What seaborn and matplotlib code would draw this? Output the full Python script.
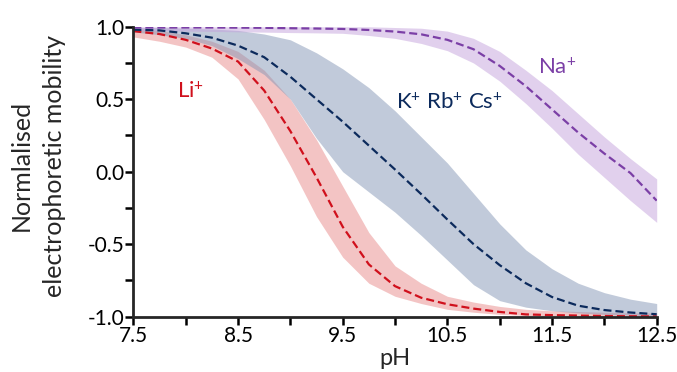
import matplotlib
matplotlib.use("Agg")
import matplotlib.pyplot as plt
import seaborn as sns
import pandas as pd
from matplotlib.ticker import MultipleLocator, FormatStrFormatter

# ---- data ----
ph = [7.5, 7.75, 8.0, 8.25, 8.5, 8.75, 9.0, 9.25, 9.5, 9.75, 10.0,
      10.25, 10.5, 10.75, 11.0, 11.25, 11.5, 11.75, 12.0, 12.25, 12.5]

li_mid = [0.97, 0.95, 0.91, 0.85, 0.76, 0.56, 0.28, -0.04, -0.38, -0.64, -0.79,
          -0.87, -0.915, -0.945, -0.968, -0.985, -0.99, -0.993, -0.996, -0.998, -0.999]
li_hi = [0.99, 0.975, 0.945, 0.90, 0.83, 0.70, 0.50, 0.22, -0.10, -0.42, -0.65,
         -0.77, -0.86, -0.90, -0.93, -0.95, -0.96, -0.965, -0.97, -0.975, -0.975]
li_lo = [0.93, 0.90, 0.86, 0.79, 0.64, 0.36, 0.04, -0.31, -0.59, -0.77, -0.86,
         -0.91, -0.95, -0.97, -0.985, -0.992, -0.996, -0.998, -1.0, -1.0, -1.0]

k_mid = [0.98, 0.975, 0.955, 0.925, 0.87, 0.79, 0.655, 0.50, 0.345, 0.18, 0.015,
         -0.155, -0.33, -0.50, -0.645, -0.77, -0.865, -0.925, -0.955, -0.972, -0.984]
k_hi = [0.995, 0.995, 0.99, 0.985, 0.975, 0.95, 0.91, 0.82, 0.71, 0.58, 0.42,
        0.24, 0.06, -0.15, -0.36, -0.54, -0.67, -0.77, -0.835, -0.88, -0.91]
k_lo = [0.965, 0.945, 0.92, 0.87, 0.78, 0.67, 0.50, 0.23, 0.0, -0.14, -0.28,
        -0.44, -0.61, -0.78, -0.89, -0.935, -0.96, -0.975, -0.985, -0.99, -0.995]

na_mid = [0.995, 0.995, 0.995, 0.995, 0.994, 0.993, 0.99, 0.988, 0.985, 0.978, 0.967,
          0.948, 0.91, 0.845, 0.73, 0.59, 0.43, 0.27, 0.125, -0.01, -0.20]
na_hi = [1.0, 1.0, 1.0, 1.0, 1.0, 1.0, 1.0, 1.0, 1.0, 1.0, 0.995,
         0.99, 0.97, 0.92, 0.83, 0.70, 0.56, 0.40, 0.24, 0.09, -0.05]
na_lo = [0.975, 0.973, 0.97, 0.968, 0.965, 0.963, 0.96, 0.958, 0.955, 0.94, 0.92,
         0.885, 0.835, 0.75, 0.625, 0.47, 0.30, 0.12, -0.04, -0.20, -0.35]

labels = ["Li$^{+}$", "K$^{+}$ Rb$^{+}$ Cs$^{+}$", "Na$^{+}$"]
line_colors = ["#d0101c", "#0c2a5c", "#7b3fa6"]
band_colors = ["#e88a8a", "#8496b6", "#c4a2dc"]

sns.set_style("ticks")
plt.rcParams["font.family"] = ["Lato", "DejaVu Sans"]
plt.rcParams["axes.unicode_minus"] = False
plt.rcParams["mathtext.fontset"] = "custom"
plt.rcParams["mathtext.rm"] = "Lato"
plt.rcParams["mathtext.it"] = "Lato"
plt.rcParams["mathtext.default"] = "regular"

fig = plt.figure(figsize=(6.77, 3.72), dpi=100)
ax = fig.add_axes([0.197, 0.149, 0.773, 0.779])

mids = [li_mid, k_mid, na_mid]
his = [li_hi, k_hi, na_hi]
los = [li_lo, k_lo, na_lo]

for hi, lo, bc in zip(his, los, band_colors):
    ax.fill_between(ph, lo, hi, color=bc, alpha=0.5, linewidth=0)

df = pd.concat([pd.DataFrame({"pH": ph, "mob": m, "ion": lab})
                for m, lab in zip(mids, labels)], ignore_index=True)
sns.lineplot(data=df, x="pH", y="mob", hue="ion", palette=line_colors,
             hue_order=labels, ax=ax, legend=False, linewidth=1.6)
for ln in ax.get_lines():
    ln.set_dashes((3.6, 1.8))

ax.set_xlim(7.5, 12.5)
ax.set_ylim(-1.0, 1.0)
ax.xaxis.set_minor_locator(MultipleLocator(0.5))
ax.yaxis.set_major_locator(MultipleLocator(0.5))
ax.yaxis.set_minor_locator(MultipleLocator(0.25))
ax.set_xticks([7.5, 8.5, 9.5, 10.5, 11.5, 12.5])
ax.xaxis.set_major_formatter(FormatStrFormatter("%.1f"))
ax.yaxis.set_major_formatter(FormatStrFormatter("%.1f"))

for s in ["top", "right"]:
    ax.spines[s].set_visible(False)
for s in ["left", "bottom"]:
    ax.spines[s].set_linewidth(2.0)
ax.tick_params(which="both", direction="out", width=1.8, length=5.5,
               labelsize=15, pad=1, colors="black")

ax.set_xlabel("pH", fontsize=17, labelpad=2)
ax.set_ylabel("Normlalised\nelectrophoretic mobility", fontsize=18,
              linespacing=1.55)
ax.yaxis.set_label_coords(-0.128, 0.52)

ax.text(8.05, 0.55, labels[0], color=line_colors[0], fontsize=16,
        ha="center", va="center")
ax.text(10.52, 0.48, labels[1], color=line_colors[1], fontsize=16,
        ha="center", va="center")
ax.text(11.55, 0.72, labels[2], color=line_colors[2], fontsize=16,
        ha="center", va="center")

fig.savefig("out.png", dpi=100)
